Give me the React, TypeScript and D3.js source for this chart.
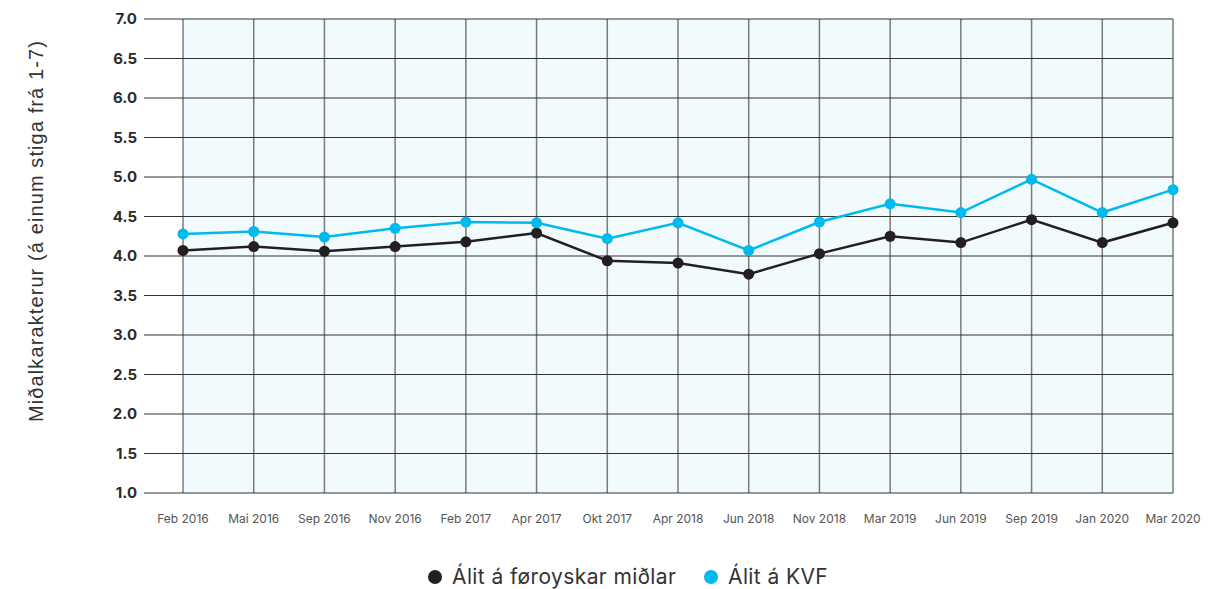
import React from "react";
import * as d3 from "d3";

const categories = ["Feb 2016","Mai 2016","Sep 2016","Nov 2016","Feb 2017","Apr 2017","Okt 2017","Apr 2018","Jun 2018","Nov 2018","Mar 2019","Jun 2019","Sep 2019","Jan 2020","Mar 2020"];
const media = [4.07,4.12,4.06,4.12,4.18,4.29,3.94,3.91,3.77,4.03,4.25,4.17,4.46,4.17,4.42];
const kvf = [4.28,4.31,4.24,4.35,4.43,4.42,4.22,4.42,4.07,4.43,4.66,4.55,4.97,4.55,4.84];
const yTicks = [1.0,1.5,2.0,2.5,3.0,3.5,4.0,4.5,5.0,5.5,6.0,6.5,7.0];
const seriesNames = ["Álit á føroyskar miðlar","Álit á KVF"];
const colors = ["#231f20","#00b9ed"];

export default function App() {
  const W = 1230, H = 589;
  const x = d3.scalePoint<string>().domain(categories).range([183, 1173]);
  const y = d3.scaleLinear().domain([1, 7]).range([493, 19]);
  const line = d3.line<number>().x((_, i) => x(categories[i])!).y(d => y(d));
  const font = "Inter, 'Open Sans', sans-serif";
  return (
    <svg width={W} height={H} style={{ position: "absolute", left: 0, top: 0 }} fontFamily={font}>
      <rect x={183} y={19} width={1173 - 183} height={493 - 19} fill="#f1fbfe" />
      {categories.map(c => (
        <line key={c} x1={x(c)} x2={x(c)} y1={19} y2={493} stroke="#7a7a7a" strokeWidth={1.5} />
      ))}
      {yTicks.map(t => (
        <g key={t}>
          <line x1={144} x2={1173} y1={y(t)} y2={y(t)} stroke="#333" strokeWidth={1.2} />
          <text x={137} y={y(t)} dy="0.35em" textAnchor="end" fontSize={15} fontWeight={700} fill="#2b2b2b">{t.toFixed(1)}</text>
        </g>
      ))}
      {categories.map(c => (
        <text key={c} x={x(c)} y={523} textAnchor="middle" fontSize={12} fill="#555">{c}</text>
      ))}
      <text transform="translate(43,231) rotate(-90)" textAnchor="middle" fontSize={20} letterSpacing={1.1} fill="#333" fontFamily="'Liberation Sans', Arial, sans-serif">Miðalkarakterur (á einum stiga frá 1-7)</text>
      {[media, kvf].map((s, k) => (
        <g key={k}>
          <path d={line(s)!} fill="none" stroke={colors[k]} strokeWidth={2.5} />
          {s.map((v, i) => (
            <circle key={i} cx={x(categories[i])} cy={y(v)} r={5.5} fill={colors[k]} />
          ))}
        </g>
      ))}
      <g>
        <circle cx={435} cy={577} r={7} fill={colors[0]} />
        <text x={452} y={577} dy="0.35em" fontSize={21} letterSpacing={0.4} fill="#333">{seriesNames[0]}</text>
        <circle cx={711} cy={577} r={7} fill={colors[1]} />
        <text x={728} y={577} dy="0.35em" fontSize={21} letterSpacing={0.4} fill="#333">{seriesNames[1]}</text>
      </g>
    </svg>
  );
}
